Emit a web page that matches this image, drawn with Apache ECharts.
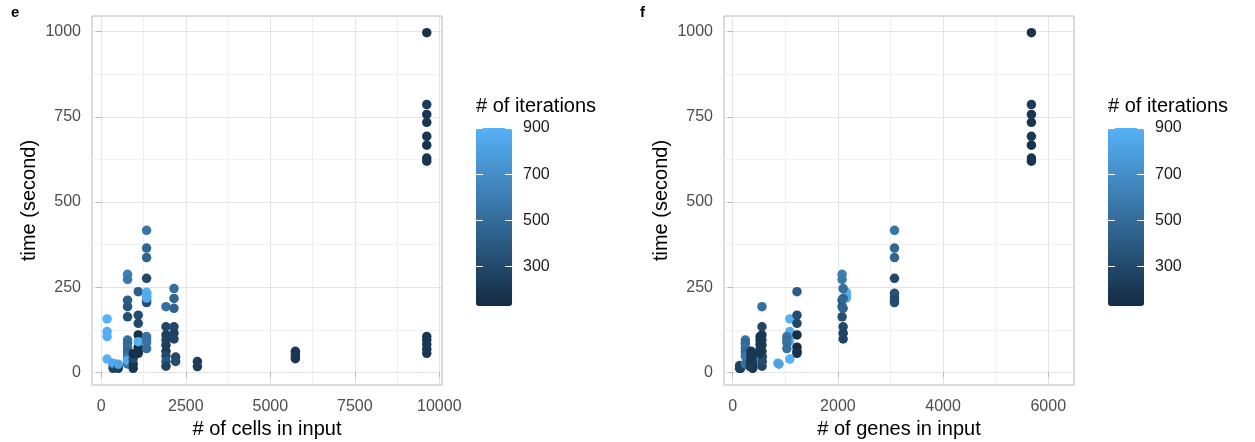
<!DOCTYPE html>
<html>
<head>
<meta charset="utf-8">
<script src="https://cdn.jsdelivr.net/npm/echarts@6/dist/echarts.min.js"></script>
<style>
  html, body { margin: 0; padding: 0; background: #fff; }
  #chart { width: 1255px; height: 442px; }
</style>
</head>
<body>
<div id="chart"></div>
<script>
// One entry per benchmark run: input size, runtime and iteration count.
const cells = [
  172, 172, 172, 172,
  350, 350, 350,
  500, 500, 500,
  777, 777, 777, 777, 777,
  777, 777, 777, 777, 777, 777, 777,
  944, 944, 944, 944,
  1093, 1093, 1093, 1093, 1093, 1093, 1093, 1093,
  1340, 1340, 1340, 1340, 1340, 1340, 1340, 1340,
  1340, 1340, 1340,
  1340, 1340, 1340, 1340,
  1914, 1914, 1914, 1914, 1914, 1914, 1914, 1914, 1914,
  2151, 2151, 2151, 2151, 2151, 2151,
  2200, 2200,
  2843, 2843,
  5742, 5742, 5742, 5742,
  9629, 9629, 9629, 9629, 9629, 9629, 9629, 9629,
  9629, 9629, 9629, 9629, 9629
];
const genes = [
  1085, 1085, 1085, 1085,
  130, 130, 860,
  150, 150, 880,
  2080, 2080, 2080, 2080, 2080,
  240, 240, 240, 240, 240, 240, 330,
  380, 380, 380, 380,
  1222, 1222, 1222, 1222, 1222, 1222, 1222, 1080,
  3076, 3076, 3076, 3076, 3076, 3076, 3076, 3076,
  2160, 2160, 2160,
  1030, 1030, 1030, 1030,
  556, 556, 556, 556, 556, 556, 556, 556, 556,
  2100, 2100, 2100, 2100, 2100, 2100,
  560, 560,
  330, 330,
  350, 350, 350, 350,
  5680, 5680, 5680, 5680, 5680, 5680, 5680, 5680,
  520, 520, 520, 520, 520
];
const seconds = [
  157, 120, 105, 39,
  12, 20, 27,
  12, 16, 24,
  288, 273, 212, 193, 163,
  95, 85, 72, 60, 48, 25, 35,
  12, 25, 40, 55,
  237, 168, 144, 110, 74, 62, 56, 90,
  417, 365, 337, 276, 232, 222, 212, 205,
  235, 225, 218,
  105, 95, 88, 70,
  193, 134, 110, 95, 80, 62, 48, 32, 18,
  246, 217, 188, 134, 115, 98,
  45, 32,
  32, 17,
  62, 52, 45, 40,
  997, 786, 757, 734, 693, 667, 629, 620,
  105, 95, 82, 68, 56
];
const iterations = [
  900, 880, 880, 900,
  250, 300, 850,
  200, 250, 820,
  620, 580, 420, 380, 330,
  520, 480, 520, 460, 560, 540, 850,
  200, 180, 300, 160,
  420, 320, 300, 160, 140, 150, 170, 880,
  560, 480, 470, 300, 350, 360, 300, 320,
  880, 870, 860,
  560, 500, 540, 520,
  520, 280, 240, 260, 240, 220, 300, 380, 260,
  520, 470, 460, 300, 260, 270,
  300, 320,
  240, 230,
  200, 190, 210, 200,
  180, 230, 200, 190, 200, 180, 200, 190,
  200, 190, 200, 210, 200
];

// Axis breaks
const timeTicks = [0, 250, 500, 750, 1000];
const timeMinor = [125, 375, 625, 875];
const cellTicks = [0, 2500, 5000, 7500, 10000];
const cellMinor = [1250, 3750, 6250, 8750];
const geneTicks = [0, 2000, 4000, 6000];
const geneMinor = [1000, 3000, 5000];
const iterTicks = [300, 500, 700, 900];
const iterRange = [130, 900];

const FONT = 'Liberation Sans, Arial, Helvetica, sans-serif';
const GRID_MAJOR = '#e4e4e4';
const GRID_MINOR = '#f0f0f0';
const FRAME = '#b8b8b8';
const LOW = '#132B43', HIGH = '#56B1F7';
const plain = v => String(v);

const panelTop = 16, panelH = 369, panelW = 350;
const panels = [
  { left: 92, xs: cells, xMin: -275, xMax: 10080, ticks: cellTicks, minor: cellMinor,
    xName: '# of cells in input', legendLeft: 476, tag: 'e', tagLeft: 11 },
  { left: 724, xs: genes, xMin: -166, xMax: 6490, ticks: geneTicks, minor: geneMinor,
    xName: '# of genes in input', legendLeft: 1108, tag: 'f', tagLeft: 640 }
];

const grid = [], xAxis = [], yAxis = [], series = [], visualMap = [], title = [];

panels.forEach((p, k) => {
  const g = grid.length;
  grid.push({ left: p.left, top: panelTop, width: panelW, height: panelH,
              outerBoundsMode: 'none', containLabel: false,
              show: true, borderColor: FRAME, borderWidth: 1, backgroundColor: 'transparent' });
  const tickStyle = { show: true, length: 5, lineStyle: { color: FRAME, width: 1 } };
  const labelStyle = { color: '#4d4d4d', fontSize: 16, fontFamily: FONT, formatter: plain };

  // major x axis
  const xi = xAxis.length;
  xAxis.push({
    gridIndex: g, type: 'value', min: p.xMin, max: p.xMax,
    name: p.xName, nameLocation: 'middle', nameGap: 34,
    nameTextStyle: { fontSize: 20, color: '#000', fontFamily: FONT },
    axisLine: { show: false },
    axisTick: Object.assign({ customValues: p.ticks }, tickStyle),
    axisLabel: Object.assign({ customValues: p.ticks, margin: 14 }, labelStyle),
    splitLine: { show: true, lineStyle: { color: GRID_MAJOR, width: 1 } },
    z: 1
  });
  // minor x grid
  xAxis.push({
    gridIndex: g, type: 'value', min: p.xMin, max: p.xMax,
    axisLine: { show: false },
    axisTick: { show: false, customValues: p.minor },
    axisLabel: { show: false, customValues: p.minor },
    splitLine: { show: true, lineStyle: { color: GRID_MINOR, width: 1 } },
    z: 0
  });
  // major y axis
  const yi = yAxis.length;
  yAxis.push({
    gridIndex: g, type: 'value', min: -37, max: 1046,
    name: 'time (second)', nameLocation: 'middle', nameGap: 53, nameRotate: 90,
    nameTextStyle: { fontSize: 20, color: '#000', fontFamily: FONT },
    axisLine: { show: false },
    axisTick: Object.assign({ customValues: timeTicks }, tickStyle),
    axisLabel: Object.assign({ customValues: timeTicks, margin: 11 }, labelStyle),
    splitLine: { show: true, lineStyle: { color: GRID_MAJOR, width: 1 } },
    z: 1
  });
  // minor y grid
  yAxis.push({
    gridIndex: g, type: 'value', min: -37, max: 1046,
    axisLine: { show: false },
    axisTick: { show: false, customValues: timeMinor },
    axisLabel: { show: false, customValues: timeMinor },
    splitLine: { show: true, lineStyle: { color: GRID_MINOR, width: 1 } },
    z: 0
  });

  series.push({
    type: 'scatter', xAxisIndex: xi, yAxisIndex: yi,
    symbolSize: 9.5, z: 5,
    itemStyle: { opacity: 1 },
    data: p.xs.map((x, i) => [x, seconds[i], iterations[i]])
  });

  visualMap.push({
    type: 'continuous', seriesIndex: k, dimension: 2,
    min: iterRange[0], max: iterRange[1],
    inRange: { color: [LOW, HIGH] },
    left: p.legendLeft, top: 128, itemWidth: 36, itemHeight: 178,
    calculable: false, text: null, padding: 0, hoverLink: false
  });

  // colourbar tick marks and labels
  const lg = grid.length;
  grid.push({ left: p.legendLeft, top: 128, width: 36, height: 178, show: false,
              outerBoundsMode: 'none', containLabel: false });
  xAxis.push({ gridIndex: lg, type: 'value', show: false, min: 0, max: 1 });
  const barTick = { show: true, inside: true, length: 7, customValues: iterTicks,
                    lineStyle: { color: '#ffffff', width: 1 } };
  yAxis.push({
    gridIndex: lg, type: 'value', position: 'left', min: iterRange[0], max: iterRange[1],
    axisLine: { show: false }, splitLine: { show: false },
    axisTick: barTick, axisLabel: { show: false, customValues: iterTicks }, z: 10
  });
  yAxis.push({
    gridIndex: lg, type: 'value', position: 'right', min: iterRange[0], max: iterRange[1],
    axisLine: { show: false }, splitLine: { show: false },
    axisTick: barTick,
    axisLabel: { show: true, customValues: iterTicks, inside: false, margin: 11,
                 color: '#1a1a1a', fontSize: 16, fontFamily: FONT, formatter: plain },
    z: 10
  });

  title.push({
    text: '# of iterations', left: p.legendLeft, top: 96, padding: 0,
    textStyle: { fontSize: 20, fontWeight: 'normal', color: '#000', fontFamily: FONT }
  });
  title.push({
    text: p.tag, left: p.tagLeft, top: 5, padding: 0,
    textStyle: { fontSize: 15, fontWeight: 'bold', color: '#000', fontFamily: FONT }
  });
});

const chart = echarts.init(document.getElementById('chart'), null, { renderer: 'canvas' });
chart.setOption({
  animation: false,
  backgroundColor: '#ffffff',
  textStyle: { fontFamily: FONT },
  title, grid, xAxis, yAxis, visualMap, series
});
</script>
</body>
</html>
